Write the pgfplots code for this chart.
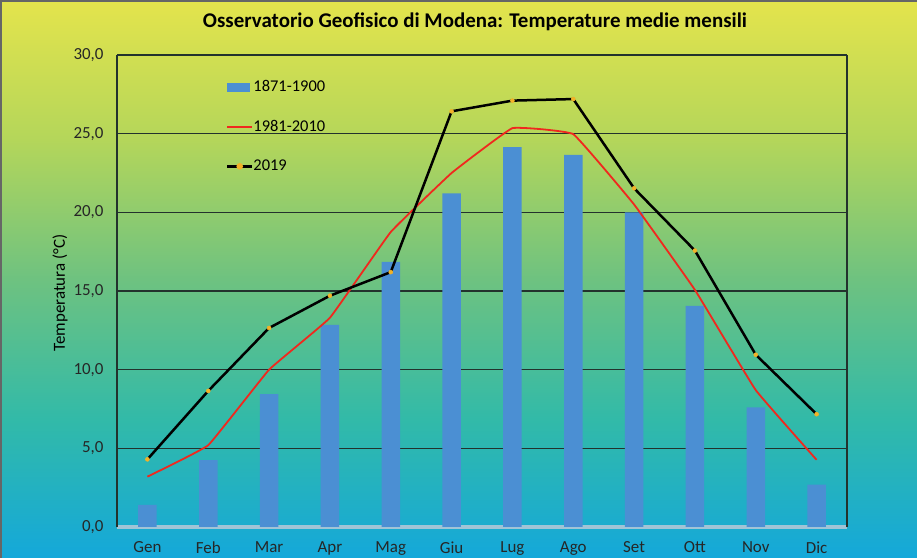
\documentclass[border=0pt]{standalone}
\usepackage{pgfplots}
\pgfplotsset{compat=1.18}
\usepackage{fontspec}
\setmainfont{Carlito}
\definecolor{barblue}{RGB}{75,143,211}
\definecolor{redline}{RGB}{240,40,30}
\definecolor{markyel}{RGB}{242,178,40}
\definecolor{gridc}{RGB}{35,50,45}
\definecolor{bgA}{RGB}{20,168,218}
\definecolor{bgB}{RGB}{50,186,168}
\definecolor{bgC}{RGB}{110,194,128}
\definecolor{bgD}{RGB}{180,214,90}
\definecolor{bgE}{RGB}{228,228,76}
\pgfdeclareverticalshading{bgshade}{100bp}{color(0bp)=(bgA); color(25bp)=(bgA); color(37.5bp)=(bgB); color(50bp)=(bgC); color(62.5bp)=(bgD); color(75bp)=(bgE); color(100bp)=(bgE)}
\begin{document}
\begin{tikzpicture}
\useasboundingbox (0,0) rectangle (917bp,558bp);
\shade[shading=bgshade] (0,0) rectangle (917bp,558bp);
\draw[gray!80!black, line width=2bp] (1bp,0) -- (1bp,557bp) -- (917bp,557bp);
\node[font=\fontsize{21}{25}\selectfont\bfseries] at (475bp,536bp) {Osservatorio Geofisico di Modena: Temperature medie mensili};
\node[font=\fontsize{17}{20}\selectfont, rotate=90] at (60bp,265bp) {Temperatura (°C)};
\begin{axis}[
  at={(117bp,31bp)}, anchor=south west,
  scale only axis, width=730bp, height=472bp,
  xmin=-0.5, xmax=11.5, ymin=0, ymax=30,
  axis x line*=bottom, axis y line*=box,
  x axis line style={draw={rgb,255:red,160;green,196;blue,214}, line width=3bp, -},
  y axis line style={draw=gridc, line width=1.3bp},
  xtick={0,...,11},
  xticklabels={Gen,Feb,Mar,Apr,Mag,Giu,Lug,Ago,Set,Ott,Nov,Dic},
  ytick={0,5,...,30},
  major tick length=0pt,
  ymajorgrids, grid style={draw=gridc, line width=1.3bp},
  /pgf/number format/.cd, fixed, fixed zerofill, precision=1, use comma, assume math mode=true,
  /pgfplots/.cd,
  tick label style={font=\fontsize{17}{20}\selectfont, text=black!85},
  yticklabel style={xshift=-10bp},
  xticklabel style={yshift=-11bp},
  legend style={draw=none, fill=none, at={(rel axis cs:0.149,0.948)}, anchor=north west,
    font=\fontsize{16.5}{19}\selectfont, row sep=23.3bp, inner sep=0pt,
    nodes={inner ysep=1bp, inner xsep=0bp, text height=11bp, text depth=3bp}},
  legend cell align=left,
]
\addplot[ybar, bar width=18.5bp, fill=barblue, draw=none,
  legend image code/.code={\fill[barblue] (0bp,-4.5bp) rectangle (23bp,4.5bp);}]
  coordinates {(0,1.4) (1,4.25) (2,8.45) (3,12.85) (4,16.85) (5,21.2) (6,24.15) (7,23.65) (8,20.0) (9,14.05) (10,7.6) (11,2.7)};
\addlegendentry{1871-1900}
\addplot[redline, line width=1.8bp, smooth, tension=0.15, no marks,
  legend image code/.code={\draw[redline, line width=1.8bp] (0bp,0bp) -- (25bp,0bp);}]
  coordinates {(0,3.2) (1,5.2) (2,10.0) (3,13.3) (4,18.75) (5,22.5) (6,25.35) (7,24.97) (8,20.5) (9,15.07) (10,8.7) (11,4.27)};
\addlegendentry{1981-2010}
\addplot[black, line width=2.5bp, mark=*, mark size=2bp, mark options={fill=markyel, draw=markyel, line width=0.5bp},
  legend image code/.code={\draw[black, line width=2.5bp] (0bp,0bp) -- (25bp,0bp); \fill[markyel] (12.5bp,0bp) circle (2bp);}]
  coordinates {(0,4.3) (1,8.65) (2,12.65) (3,14.7) (4,16.2) (5,26.42) (6,27.1) (7,27.2) (8,21.53) (9,17.57) (10,10.95) (11,7.17)};
\addlegendentry{2019}
\end{axis}
\end{tikzpicture}
\end{document}
